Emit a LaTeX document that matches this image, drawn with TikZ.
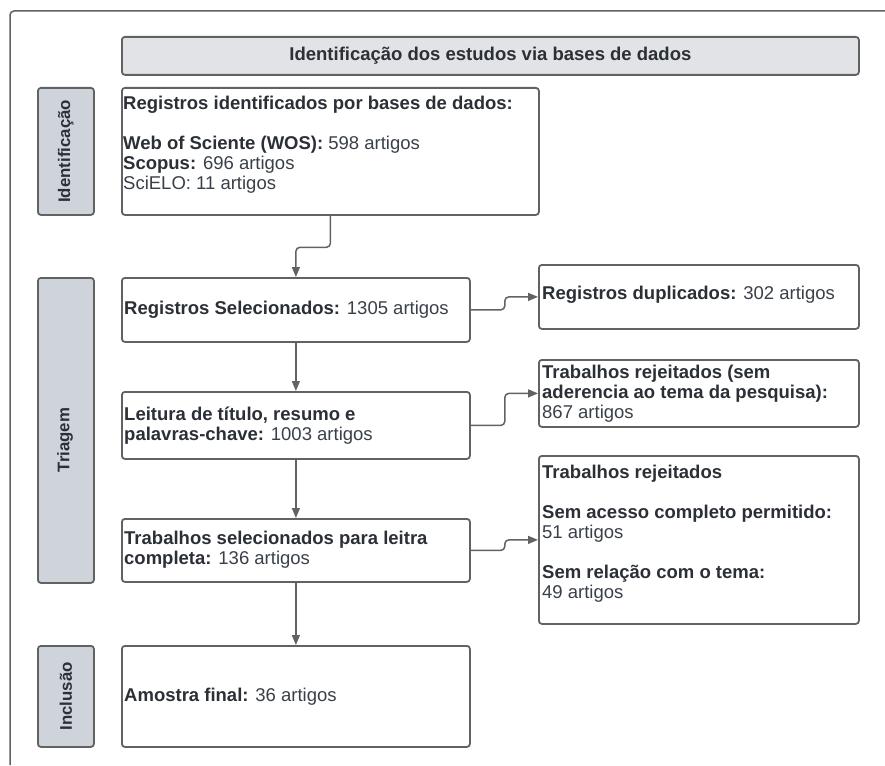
\documentclass[tikz,border=0pt]{standalone}
\usepackage{fontspec}
\setmainfont{Liberation Sans}
\usetikzlibrary{arrows.meta,calc}
\definecolor{linegray}{HTML}{626262}
\definecolor{hdrfill}{HTML}{E1E3E7}
\definecolor{labfill}{HTML}{CFD3DA}
\definecolor{txtdark}{HTML}{2B2F36}
\definecolor{txtreg}{HTML}{3A4049}
\newcommand\bfx[1]{\textbf{\color{txtdark}#1}}
\begin{document}
\begin{tikzpicture}[x=1pt,y=-1pt,
  box/.style={draw=linegray, line width=1.8pt, rounded corners=3pt, anchor=north west, inner sep=0pt, fill=white},
  hdrbox/.style={box, fill=hdrfill},
  labbox/.style={box, fill=labfill},
  txt/.style={inner sep=0pt, align=left, text=txtreg, font=\fontsize{18.5}{20}\selectfont},
  labtxt/.style={inner sep=0pt, rotate=90, text=txtdark, font=\fontsize{16.8}{20}\selectfont\bfseries},
  conn/.style={draw=linegray, line width=1.5pt, rounded corners=4pt, -{Triangle[length=10pt,width=8pt]}},
]
\useasboundingbox (0,0) rectangle (885,765);
% outer frame (clipped on right and bottom)
\draw[linegray, line width=1.5pt, rounded corners=4pt] (10,765) -- (10,11) -- (885,11);

% header
\node[hdrbox, minimum width=737pt, minimum height=38pt] (hdr) at (121,36) {};
\node[txt, text=txtdark, font=\fontsize{18.5}{20}\selectfont\bfseries] (hdrtxt) at (hdr.center) {Identificação dos estudos via bases de dados};

% phase labels
\node[labbox, minimum width=56pt, minimum height=127pt] (lab1) at (37,87) {};
\node[labtxt] (lab1txt) at (lab1.center) {Identificação};
\node[labbox, minimum width=56pt, minimum height=305pt] (lab2) at (37,277) {};
\node[labtxt] (lab2txt) at (65,440) {Triagem};
\node[labbox, minimum width=56pt, minimum height=101pt] (lab3) at (37,645) {};
\node[labtxt] (lab3txt) at (lab3.center) {Inclusão};

% boxes
\node[box, minimum width=417pt, minimum height=127pt] (b1) at (121,87) {};
\node[box, minimum width=348pt, minimum height=64pt] (b2) at (121,277) {};
\node[box, minimum width=320pt, minimum height=64pt] (b3) at (538,264) {};
\node[box, minimum width=348pt, minimum height=67pt] (b4) at (121,391) {};
\node[box, minimum width=320pt, minimum height=67pt] (b5) at (538,359) {};
\node[box, minimum width=348pt, minimum height=63pt] (b6) at (121,518) {};
\node[box, minimum width=320pt, minimum height=168pt] (b7) at (538,455) {};
\node[box, minimum width=348pt, minimum height=101pt] (b8) at (121,645) {};

% texts
\node[txt, anchor=north west] (t1) at (123,96) {\bfx{Registros identificados por bases de dados:}\\[20pt]\bfx{Web of Sciente (WOS):} 598 artigos\\\bfx{Scopus:} 696 artigos\\SciELO: 11 artigos};
\node[txt, anchor=west] (t2) at ($(b2.west)+(3,0)$) {\bfx{Registros Selecionados:} 1305 artigos};
\node[txt, anchor=west] (t3) at ($(b3.west)+(4,-2)$) {\bfx{Registros duplicados:} 302 artigos};
\node[txt, anchor=west] (t4) at ($(b4.west)+(3,0)$) {\bfx{Leitura de título, resumo e}\\\bfx{palavras-chave:} 1003 artigos};
\node[txt, anchor=west] (t5) at ($(b5.west)+(4,0)$) {\bfx{Trabalhos rejeitados (sem}\\\bfx{aderencia ao tema da pesquisa):}\\867 artigos};
\node[txt, anchor=west] (t6) at ($(b6.west)+(3,-1)$) {\bfx{Trabalhos selecionados para leitra}\\\bfx{completa:} 136 artigos};
\node[txt, anchor=north west] (t7) at (542,465) {\bfx{Trabalhos rejeitados}\\[20pt]\bfx{Sem acesso completo permitido:}\\51 artigos\\[20pt]\bfx{Sem relação com o tema:}\\49 artigos};
\node[txt, anchor=west] (t8) at ($(b8.west)+(3,0)$) {\bfx{Amostra final:} 36 artigos};

% connectors
\draw[conn] (b1.south) -- ($(b1.south)+(0,31.5)$) -| (b2.north);
\draw[conn] (b2.south) -- (b4.north);
\draw[conn] (b4.south) -- (b6.north);
\draw[conn] (b6.south) -- (b8.north);
\draw[conn] (b2.east) -- ($(b2.east)+(34,0)$) |- (b3.west);
\draw[conn] (b4.east) -- ($(b4.east)+(34,0)$) |- (b5.west);
\draw[conn] (b6.east) -- ($(b6.east)+(34,0)$) |- (b7.west);
\end{tikzpicture}
\end{document}
